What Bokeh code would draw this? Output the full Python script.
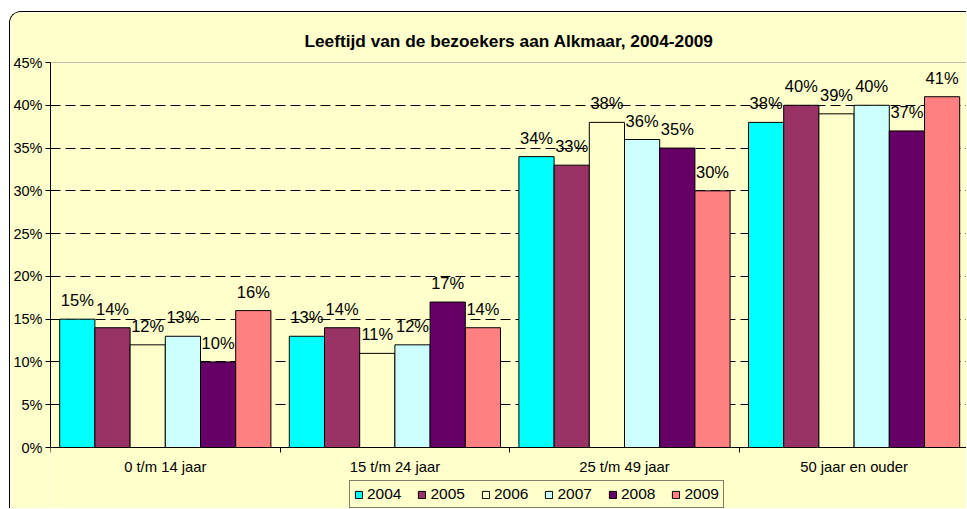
import numpy as np
from bokeh.plotting import figure
from bokeh.models import (Range1d, FixedTicker, LinearAxis, Span,
                          ColumnDataSource, LabelSet, Legend, LegendItem)
from bokeh.core.properties import value
from bokeh.embed import file_html
from bokeh.resources import INLINE

categories = ["0 t/m 14 jaar", "15 t/m 24 jaar", "25 t/m 49 jaar", "50 jaar en ouder"]
years = ["2004", "2005", "2006", "2007", "2008", "2009"]
v2004 = [15, 13, 34, 38]
v2005 = [14, 14, 33, 40]
v2006 = [12, 11, 38, 39]
v2007 = [13, 12, 36, 40]
v2008 = [10, 17, 35, 37]
v2009 = [16, 14, 30, 41]
series = [v2004, v2005, v2006, v2007, v2008, v2009]
colors = ["#00FFFF", "#993366", "#FFFFCC", "#CCFFFF", "#660066", "#FF8080"]
y_ticks = [0, 5, 10, 15, 20, 25, 30, 35, 40, 45]

BG = "#FFFFCC"
FONT = "Liberation Sans"

# geometry: canvas starts at page (10, 12); frame top at 62, value 0 at 447, frame runs to page bottom
W, H = 957, 497
PX_PER_UNIT = 385 / 45.0
y_bottom = -(509 - 447) / PX_PER_UNIT
CAT_W = 229.6

p = figure(width=W, height=H, output_backend="svg", toolbar_location=None,
           x_range=Range1d(0, 917 / CAT_W), y_range=Range1d(y_bottom, 45),
           x_axis_location=None, y_axis_location=None,
           min_border_left=40, min_border_right=0, min_border_top=50, min_border_bottom=0)
p.styles = {"margin-left": "9px", "margin-top": "11px",
            "border-top": "1px solid black", "border-left": "1px solid black",
            "border-top-left-radius": "12px", "overflow": "hidden"}
p.title.text = "Leeftijd van de bezoekers aan Alkmaar, 2004-2009"
p.title.align = "center"
p.title.text_font = FONT
p.title.text_font_size = "17.3px"
p.title.text_font_style = "bold"
p.title.text_color = "black"
p.title.standoff = 24
p.border_fill_color = BG
p.background_fill_color = BG
p.outline_line_color = None

# y axis
yax = LinearAxis(ticker=FixedTicker(ticks=y_ticks), bounds=(0, 45))
yax.major_label_overrides = {t: f"{t}%" for t in y_ticks}
yax.major_tick_out = 5
yax.major_tick_in = 0
yax.minor_tick_line_color = None
yax.axis_line_color = "black"
yax.major_tick_line_color = "black"
yax.major_label_text_font = FONT
yax.major_label_text_font_size = "14.5px"
yax.major_label_text_color = "black"
yax.major_label_standoff = 3
p.add_layout(yax, "left")

# x axis line at value 0 with boundary ticks pointing down
ncat = len(categories)
centers = [i + 0.5 for i in range(ncat)]
xax = LinearAxis(fixed_location=0,
                 ticker=FixedTicker(ticks=[], minor_ticks=list(range(ncat + 1))))
xax.major_tick_line_color = None
xax.major_tick_out = 0
xax.major_tick_in = 0
xax.minor_tick_out = 0
xax.minor_tick_in = 5
xax.minor_tick_line_color = "black"
xax.axis_line_color = "black"
xax.major_label_text_font_size = "0px"
xax.major_label_standoff = 0
p.add_layout(xax, "above")

cat_src = ColumnDataSource(dict(x=centers, y=[0] * ncat, lab=categories))
p.add_layout(LabelSet(x="x", y="y", text="lab", source=cat_src, y_offset=-19,
                      text_align="center", text_baseline="middle",
                      text_font=value(FONT), text_font_size=value("14.8px"),
                      text_color="black"))

p.xgrid.visible = False
p.ygrid.ticker = FixedTicker(ticks=y_ticks[1:-1])
p.ygrid.grid_line_color = "black"
p.ygrid.grid_line_dash = "10 5"
p.ygrid.grid_line_width = 1
p.add_layout(Span(location=45, dimension="width", line_color="#808080", line_width=1))

# bars
bw = 35.2 / CAT_W
cat_idx = np.arange(ncat)
items = []
for j, (yr, vals, col) in enumerate(zip(years, series, colors)):
    xs = cat_idx + 0.5 + (j - 2.5) * bw
    src = ColumnDataSource(dict(x=xs, top=vals, lab=[f"{v}%" for v in vals]))
    r = p.vbar(x="x", top="top", bottom=0, width=bw, source=src, fill_color=col,
               line_color="black", line_width=1)
    items.append(LegendItem(label=yr, renderers=[r]))
    p.add_layout(LabelSet(x="x", y="top", text="lab", source=src, y_offset=19,
                          text_align="center", text_baseline="middle",
                          text_font=value(FONT), text_font_size=value("16.5px"),
                          text_color="black"))

legend = Legend(items=items, orientation="horizontal", location=(299, 1))
legend.label_text_font = FONT
legend.label_text_font_size = "15.5px"
legend.label_text_color = "black"
legend.glyph_width = 9
legend.glyph_height = 9
legend.label_standoff = 4
legend.label_height = 16
legend.spacing = 16
legend.padding = 4
legend.margin = 0
legend.border_line_color = "black"
legend.border_line_width = 1
legend.background_fill_color = BG
legend.background_fill_alpha = 1
p.add_layout(legend, "center")

open("out.html", "w").write(file_html(p, INLINE))
